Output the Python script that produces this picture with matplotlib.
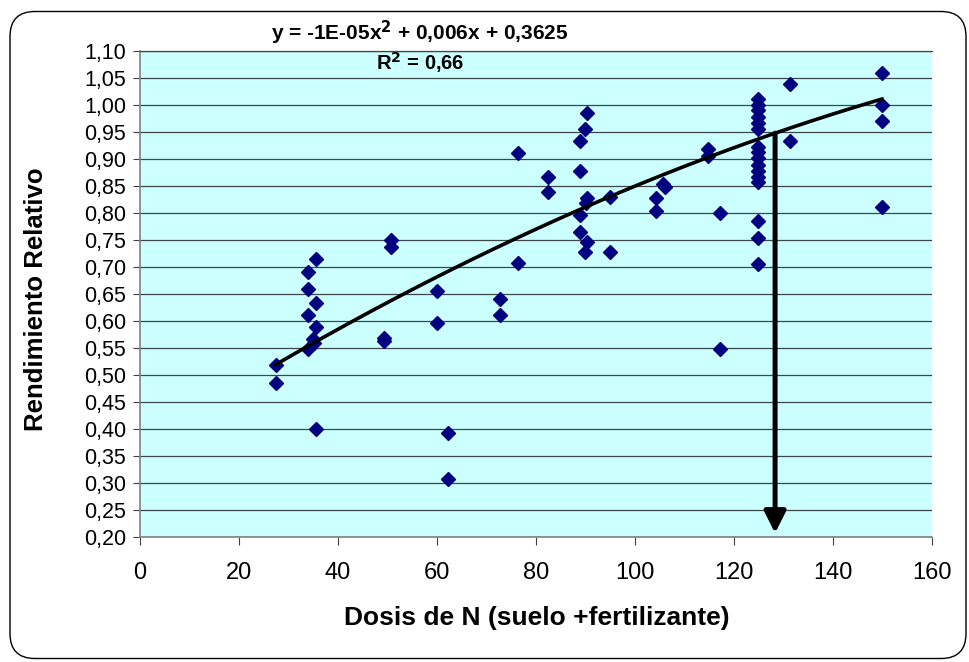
import numpy as np
import matplotlib
matplotlib.use("Agg")
import matplotlib.pyplot as plt
from matplotlib.patches import FancyBboxPatch
from matplotlib.ticker import FuncFormatter, MultipleLocator

plt.rcParams['font.family'] = ['Liberation Sans', 'DejaVu Sans']
plt.rcParams['mathtext.default'] = 'regular'

# ---- data ----
dosis_n = [27.4, 27.4,
           33.9, 33.9, 33.9, 33.9,
           35.6, 35.6, 35.6, 35.0, 35.2, 35.6,
           49.3, 49.3, 50.8, 50.8,
           60.1, 60.1, 62.2, 62.2,
           72.7, 72.7, 76.3, 76.3,
           82.4, 82.4,
           88.8, 88.8, 88.8, 88.8,
           90.4, 90.0, 90.4, 90.2, 90.4, 90.0,
           94.9, 94.9,
           104.2, 104.2, 105.7, 106.1,
           114.7, 114.7, 117.2, 117.2,
           124.8, 124.8, 124.8, 124.8, 124.8, 124.8, 124.8, 124.8,
           124.8, 124.8, 124.8, 124.8, 124.8, 124.8, 124.8, 124.8,
           131.3, 131.3,
           149.9, 149.9, 149.9, 149.9]
rend_rel = [0.519, 0.485,
            0.690, 0.659, 0.611, 0.548,
            0.715, 0.634, 0.588, 0.567, 0.559, 0.400,
            0.563, 0.568, 0.750, 0.737,
            0.656, 0.597, 0.392, 0.308,
            0.641, 0.611, 0.912, 0.708,
            0.867, 0.838,
            0.934, 0.878, 0.796, 0.764,
            0.986, 0.956, 0.828, 0.819, 0.746, 0.727,
            0.830, 0.727,
            0.827, 0.804, 0.854, 0.849,
            0.919, 0.906, 0.800, 0.548,
            1.012, 1.000, 0.990, 0.978, 0.966, 0.956, 0.923, 0.913,
            0.901, 0.889, 0.877, 0.867, 0.858, 0.786, 0.753, 0.706,
            1.038, 0.934,
            1.060, 1.000, 0.971, 0.812]

# trend line coefficients (quadratic), as drawn in the reference
trend_coef = [-1.08e-05, 0.00593, 0.3648]

equation_text = "y = -1E-05x$^{\\mathbf{2}}$ + 0,006x + 0,3625"
r2_text = "R$^{\\mathbf{2}}$ = 0,66"
arrow_x = 128.3
x_label = "Dosis de N (suelo +fertilizante)"
y_label = "Rendimiento Relativo"

# ---- figure ----
fig = plt.figure(figsize=(9.7, 6.62), dpi=100)
fig.patch.set_facecolor('white')

border = FancyBboxPatch((0.10, 0.035), 9.56, 6.47,
                        boxstyle="round,pad=0,rounding_size=0.25",
                        transform=fig.dpi_scale_trans,
                        facecolor='none', edgecolor='black', lw=1.0)
fig.patches.append(border)

ax = fig.add_axes([140/970, 1-537/662, (932-140)/970, (537-51)/662])
ax.set_facecolor('#CCFFFF')
ax.set_xlim(0, 160)
ax.set_ylim(0.20, 1.10)
ax.xaxis.set_major_locator(MultipleLocator(20))
ax.yaxis.set_major_locator(MultipleLocator(0.05))
ax.yaxis.set_major_formatter(FuncFormatter(lambda v, p: f"{v:.2f}".replace('.', ',')))
ax.grid(axis='y', color='#3c4848', lw=0.9)
ax.set_axisbelow(True)

ax.spines['right'].set_visible(False)
ax.spines['top'].set_color('#3c4848')
ax.spines['top'].set_linewidth(0.9)
ax.spines['left'].set_color('#808080')
ax.spines['bottom'].set_color('#808080')
ax.spines['left'].set_linewidth(1.2)
ax.spines['bottom'].set_linewidth(1.2)
ax.tick_params(axis='y', direction='out', length=5, color='#404040', labelsize=15.5, pad=5)
ax.tick_params(axis='x', direction='out', length=6, color='#404040', labelsize=17, pad=12)

# scatter
ax.plot(dosis_n, rend_rel, linestyle='none', marker='D', markersize=7,
        color='#000080', zorder=3)

# polynomial trend line
xs = np.linspace(min(dosis_n), max(dosis_n), 200)
ax.plot(xs, np.polyval(trend_coef, xs), color='black', lw=2.6, zorder=4)

# arrow from curve down to the x-axis
y_top = np.polyval(trend_coef, arrow_x)
ax.annotate('', xy=(arrow_x, 0.207), xytext=(arrow_x, y_top),
            arrowprops=dict(arrowstyle='-|>,head_length=1.3,head_width=0.65',
                            lw=3.6, color='black', shrinkA=0, shrinkB=0,
                            mutation_scale=10),
            zorder=5)

ax.set_xlabel(x_label, fontsize=19, fontweight='bold')
ax.xaxis.set_label_coords(0.5006, -0.142)
ax.set_ylabel(y_label, fontsize=18.5, fontweight='bold')
ax.yaxis.set_label_coords(-0.116, 0.49)

fig.text(420/970, 1-33/662, equation_text, fontsize=15, fontweight='bold',
         ha='center', va='center')
fig.text(420/970, 1-63/662, r2_text, fontsize=14.5, fontweight='bold',
         ha='center', va='center')

fig.savefig('out.png', dpi=100)
